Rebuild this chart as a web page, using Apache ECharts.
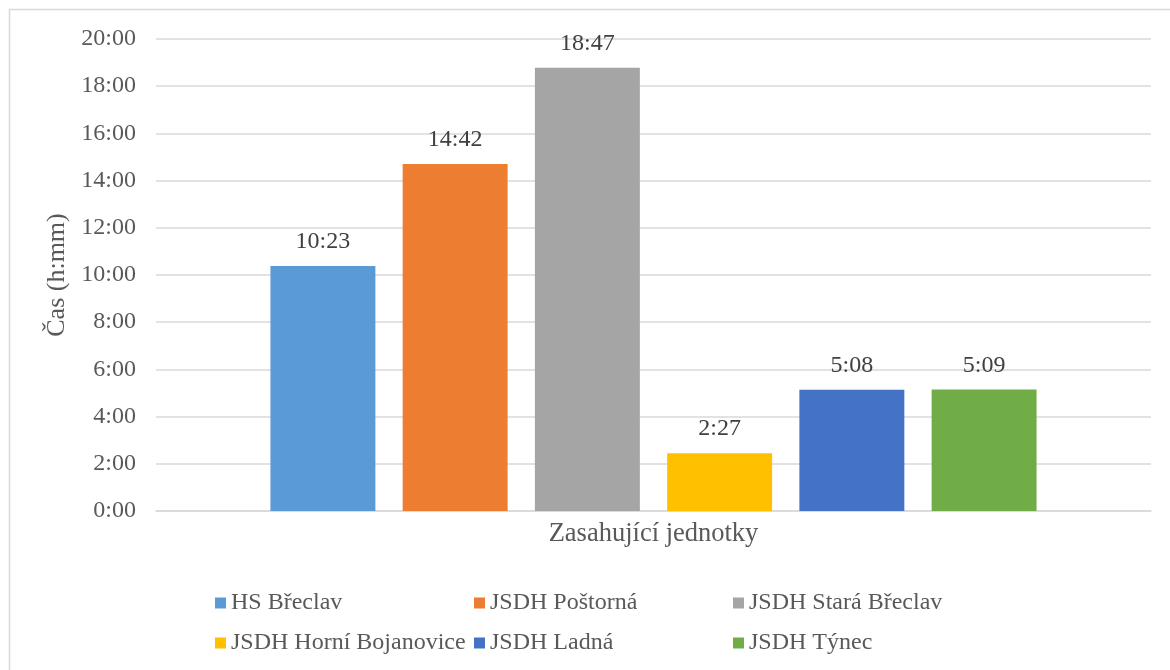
<!DOCTYPE html>
<html>
<head>
<meta charset="utf-8">
<title>Zasahující jednotky</title>
<script src="https://cdn.jsdelivr.net/npm/echarts@6/dist/echarts.min.js"></script>
<style>
  html, body { margin: 0; padding: 0; background: #ffffff; }
  #chart { width: 1170px; height: 670px; }
</style>
</head>
<body>
<div id="chart"></div>
<script>
// Units responding and their arrival times (m:ss)
const categories = ['Zasahující jednotky'];
const units = ['HS Břeclav', 'JSDH Poštorná', 'JSDH Stará Břeclav', 'JSDH Horní Bojanovice', 'JSDH Ladná', 'JSDH Týnec'];
const times = ['10:23', '14:42', '18:47', '2:27', '5:08', '5:09'];
const colors = ['#5B9BD5', '#ED7D31', '#A5A5A5', '#FFC000', '#4472C4', '#70AD47'];
const yTicks = { min: 0, max: 20, interval: 2 };

const FONT = 'Liberation Serif';

function toMinutes(s) {
  const [m, sec] = s.split(':').map(Number);
  return m + sec / 60;
}
function fmt(v) {
  const total = Math.round(v * 60);
  const m = Math.floor(total / 60);
  const s = total % 60;
  return m + ':' + (s < 10 ? '0' : '') + s;
}

const series = units.map((name, i) => ({
  name: name,
  type: 'bar',
  data: [toMinutes(times[i])],
  itemStyle: { color: colors[i] },
  barGap: '26%',
  barCategoryGap: '23%',
  label: {
    show: true,
    position: 'top',
    distance: 12,
    formatter: () => times[i],
    fontFamily: FONT,
    fontSize: 24,
    color: '#404040'
  }
}));

const chart = echarts.init(document.getElementById('chart'), null, { renderer: 'canvas' });
chart.setOption({
  animation: false,
  backgroundColor: '#ffffff',
  textStyle: { fontFamily: FONT },
  graphic: [{
    type: 'rect',
    shape: { x: 9.5, y: 9.5, width: 1180, height: 680 },
    style: { fill: 'none', stroke: '#d9d9d9', lineWidth: 1.5 },
    silent: true
  }],
  grid: { left: 156, right: 19, top: 39, bottom: 159 },
  legend: {
    data: units,
    left: 215,
    top: 587,
    width: 800,
    icon: 'rect',
    itemWidth: 11,
    itemHeight: 11,
    itemGap: 8,
    padding: 0,
    selectedMode: false,
    textStyle: {
      fontFamily: FONT,
      fontSize: 24,
      color: '#595959',
      width: 235,
      lineHeight: 32
    }
  },
  xAxis: {
    type: 'category',
    data: categories,
    name: 'Zasahující jednotky',
    nameLocation: 'middle',
    nameGap: 10,
    nameTextStyle: { fontFamily: FONT, fontSize: 26.5, color: '#595959' },
    axisLine: { show: true, lineStyle: { color: '#d9d9d9', width: 1.5 } },
    axisTick: { show: false },
    axisLabel: { show: false }
  },
  yAxis: {
    type: 'value',
    min: yTicks.min,
    max: yTicks.max,
    interval: yTicks.interval,
    name: 'Čas (h:mm)',
    nameLocation: 'middle',
    nameGap: 84,
    nameTextStyle: { fontFamily: FONT, fontSize: 26, color: '#595959' },
    axisLine: { show: false },
    axisTick: { show: false },
    axisLabel: {
      formatter: v => fmt(v),
      fontFamily: FONT,
      fontSize: 24,
      color: '#595959',
      margin: 20
    },
    splitLine: { lineStyle: { color: '#d9d9d9', width: 1.5 } }
  },
  series: series
});
</script>
</body>
</html>
